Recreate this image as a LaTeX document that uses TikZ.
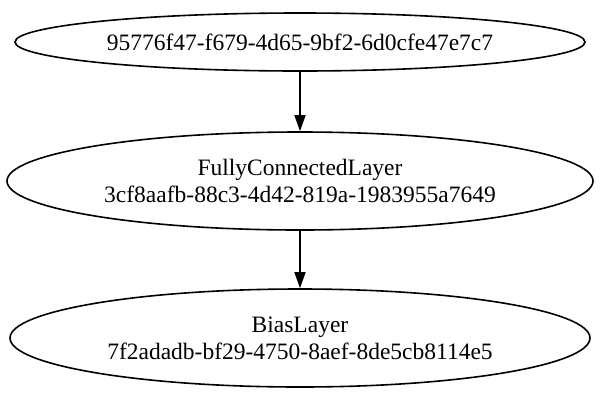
\documentclass[tikz,border=0pt]{standalone}
\usepackage{fontspec}
\setmainfont{Liberation Serif}
\usetikzlibrary{shapes.geometric,arrows.meta}
\begin{document}
\begin{tikzpicture}[x=1pt,y=-1pt,
  graphnode/.style={draw, ellipse, line width=1.6pt, inner sep=0pt,
    align=center, font=\fontsize{23.5}{27}\selectfont},
  edge/.style={line width=1.6pt, -{Triangle[length=16pt,width=11pt]}}]
\useasboundingbox (0,0) rectangle (600,400);
% layer graph: input, fully connected layer, bias layer
\node[graphnode, minimum width=570pt, minimum height=58pt] (src) at (300,42)
  {95776f47-f679-4d65-9bf2-6d0cfe47e7c7};
\node[graphnode, minimum width=586pt, minimum height=98pt] (fc) at (300,181)
  {FullyConnectedLayer\\3cf8aafb-88c3-4d42-819a-1983955a7649};
\node[graphnode, minimum width=580pt, minimum height=98pt] (bias) at (300,338)
  {BiasLayer\\7f2adadb-bf29-4750-8aef-8de5cb8114e5};
\draw[edge] (src) -- (fc);
\draw[edge] (fc) -- (bias);
\end{tikzpicture}
\end{document}
